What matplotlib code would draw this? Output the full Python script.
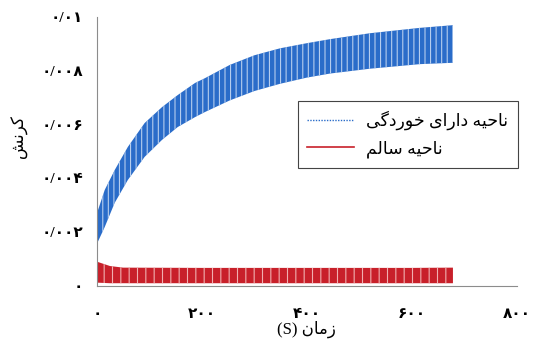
import matplotlib.pyplot as plt
from matplotlib.lines import Line2D

# envelope of the corroded-zone strain band
t_blue = [0, 1, 15, 34, 59, 91, 124, 154, 187, 206, 253, 300, 349, 400, 444, 520, 615, 678]
blue_top = [0.0015, 0.00275, 0.00357, 0.00431, 0.00517, 0.00606, 0.00665, 0.00710,
            0.00755, 0.00773, 0.00822, 0.00858, 0.00884, 0.00903, 0.00918, 0.00940,
            0.00960, 0.00970]
blue_low = [0.0, 0.00160, 0.00219, 0.00309, 0.00394, 0.00480, 0.00543, 0.00591,
            0.00628, 0.00647, 0.00690, 0.00725, 0.00752, 0.00775, 0.00790, 0.00808,
            0.00825, 0.00830]

# envelope of the healthy-zone strain band
t_red = [0, 2, 25, 50, 200, 400, 600, 678]
red_top = [0.0009, 0.00089, 0.00074, 0.00068, 0.00067, 0.00067, 0.00067, 0.00068]
red_low = [0.0, 0.00012, 0.0001, 0.0001, 0.0001, 0.0001, 0.0001, 0.0001]

x_ticks = [0, 200, 400, 600, 800]
x_labels = ["۰", "۲۰۰", "۴۰۰", "۶۰۰", "۸۰۰"]
y_ticks = [0, 0.002, 0.004, 0.006, 0.008, 0.01]
y_labels = ["۰", "۰/۰۰۲", "۰/۰۰۴", "۰/۰۰۶", "۰/۰۰۸", "۰/۰۱"]


def visual(codes):
    # shaped presentation forms, reversed for left-to-right drawing
    return "".join(chr(c) for c in codes)[::-1]


label_corroded = visual([0xFEE7, 0xFE8E, 0xFEA3, 0xFEF4, 0xFEEA, 0x20,
                         0xFEA9, 0xFE8D, 0xFEAD, 0xFE8D, 0xFEEF, 0x20,
                         0xFEA7, 0xFEEE, 0xFEAD, 0xFEA9, 0xFB94, 0xFEF0])
label_healthy = visual([0xFEE7, 0xFE8E, 0xFEA3, 0xFEF4, 0xFEEA, 0x20,
                        0xFEB3, 0xFE8E, 0xFEDF, 0xFEE2])
x_title = "(S) " + visual([0xFEAF, 0xFEE3, 0xFE8E, 0xFEE5])
y_title = visual([0xFB90, 0xFEAE, 0xFEE7, 0xFEB6])

plt.rcParams["font.family"] = ["Liberation Serif", "DejaVu Sans"]
plt.rcParams["hatch.linewidth"] = 0.8

blue = "#2a6cc9"
red = "#c8202a"

fig = plt.figure(figsize=(5.38, 3.42), dpi=100)
ax = fig.add_axes([0.180, 0.164, 0.781, 0.786])

ax.fill_between(t_blue, blue_low, blue_top, facecolor=blue, edgecolor="#b5cdee",
                hatch="|||", linewidth=0)
ax.fill_between(t_red, red_low, red_top, facecolor=red, edgecolor="#f0b0b0",
                hatch="||", linewidth=0)
ax.plot([0, 0], [0, 0.0016], color=blue, lw=1.2)

ax.set_xlim(0, 800)
ax.set_ylim(0, 0.01)
ax.set_xticks(x_ticks)
ax.set_xticklabels(x_labels, fontsize=11, fontweight="bold")
ax.set_yticks(y_ticks)
ax.set_yticklabels(y_labels, fontsize=11, fontweight="bold")
ax.tick_params(axis="both", length=0)
ax.tick_params(axis="x", pad=16)
ax.tick_params(axis="y", pad=10)
for side in ("top", "right"):
    ax.spines[side].set_visible(False)
for side in ("left", "bottom"):
    ax.spines[side].set_color("#8c8c8c")
    ax.spines[side].set_linewidth(0.8)

ax.set_xlabel(x_title, fontsize=12, labelpad=0)
ax.set_ylabel(y_title, fontsize=12)
ax.yaxis.set_label_coords(-0.165, 0.555)

handles = [Line2D([], [], color=blue, lw=1.0, ls=(0, (1, 1))),
           Line2D([], [], color=red, lw=1.2)]
leg = ax.legend(handles, [label_corroded, label_healthy], loc="upper right",
                bbox_to_anchor=(1.002, 0.688), borderaxespad=0, fontsize=12.5,
                handlelength=2.7, handletextpad=0.7, fancybox=False, framealpha=1,
                edgecolor="#444444", borderpad=0.55, labelspacing=0.6)
leg.get_frame().set_linewidth(0.8)

fig.savefig("out.png", dpi=100)
